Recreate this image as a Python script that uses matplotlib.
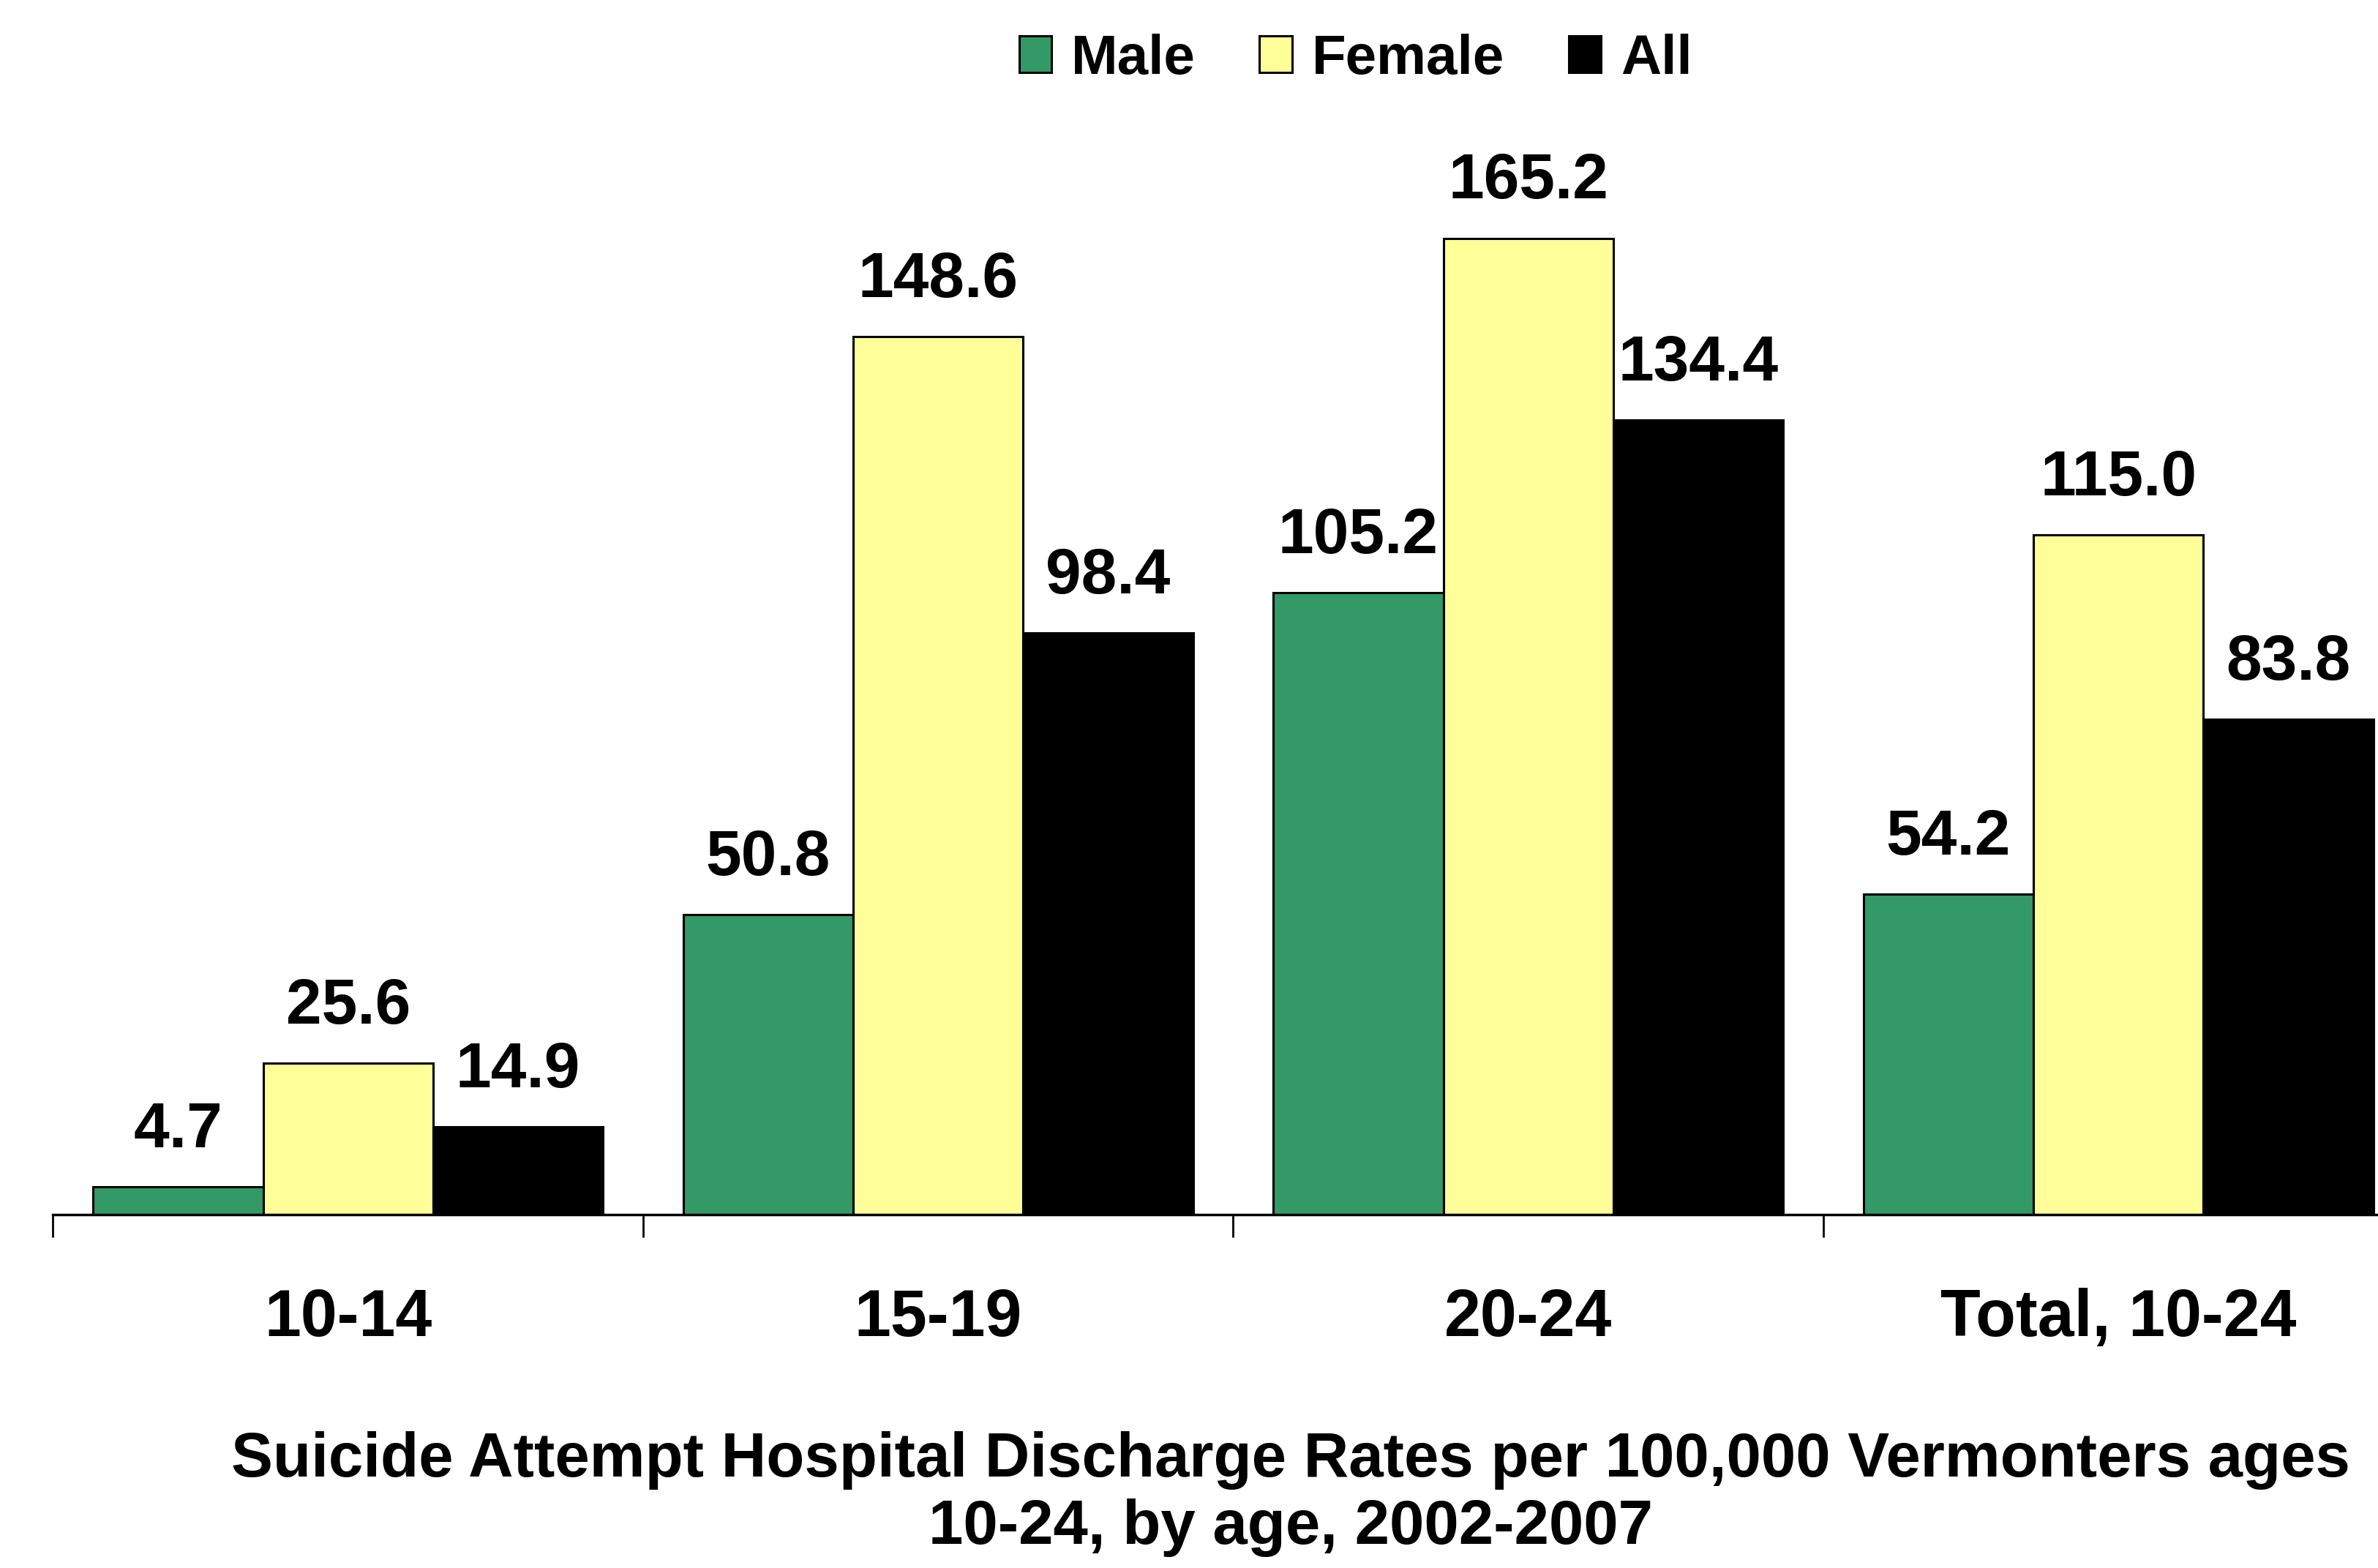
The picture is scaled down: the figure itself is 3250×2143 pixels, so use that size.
import numpy as np
import matplotlib.pyplot as plt

plt.rcParams['font.family'] = ['Liberation Sans', 'DejaVu Sans']
plt.rcParams['font.weight'] = 'bold'

# Daten
groups = ['10-14', '15-19', '20-24', 'Total, 10-24']
series = ['Male', 'Female', 'All']
male = [4.7, 50.8, 105.2, 54.2]
female = [25.6, 148.6, 165.2, 115.0]
all_ = [14.9, 98.4, 134.4, 83.8]
colors = ['#339966', '#FFFF99', '#000000']
title = 'Suicide Attempt Hospital Discharge Rates per 100,000 Vermonters ages\n10-24, by age, 2002-2007'

fig = plt.figure(figsize=(32.5, 21.43), dpi=100)
ax = fig.add_axes([0.0223, 0.2253, 0.9777, 0.7747])

x = np.arange(len(groups))
w = 0.288
for k, (vals, col, name) in enumerate(zip([male, female, all_], colors, series)):
    pos = x + (k - 1) * w
    ax.bar(pos, vals, w, color=col, edgecolor='black', linewidth=2.2, label=name)
    for p, v in zip(pos, vals):
        ax.annotate(f'{v:.1f}', (p, v), xytext=(0, 26), textcoords='offset points',
                    ha='center', va='bottom', fontsize=63, fontweight='bold')

for s in ['left', 'top', 'right']:
    ax.spines[s].set_visible(False)
ax.spines['bottom'].set_linewidth(2.5)
ax.set_yticks([])
ax.set_xticks(np.arange(-0.5, 4, 1))
ax.set_xticklabels([])
ax.tick_params(axis='x', which='major', direction='out', length=22, width=2)
ax.set_xticks(x, minor=True)
ax.set_xticklabels(groups, minor=True, fontsize=64.5, fontweight='bold')
ax.tick_params(axis='x', which='minor', length=0, pad=72)
# Grenzen erst nach den Ticks setzen
ax.set_xlim(-0.5, 3.44)
ax.set_ylim(0, 205.5)

fig.text(0.5427, 0.047, title, ha='center', va='center', fontsize=61.4,
         fontweight='bold', multialignment='center', linespacing=1.19)

fig.legend(loc='center', bbox_to_anchor=(0.57, 0.962), ncol=3, frameon=False,
           fontsize=55, handlelength=0.58, handleheight=0.62, handletextpad=0.35,
           columnspacing=1.15)

fig.savefig('out.png', dpi=100)
